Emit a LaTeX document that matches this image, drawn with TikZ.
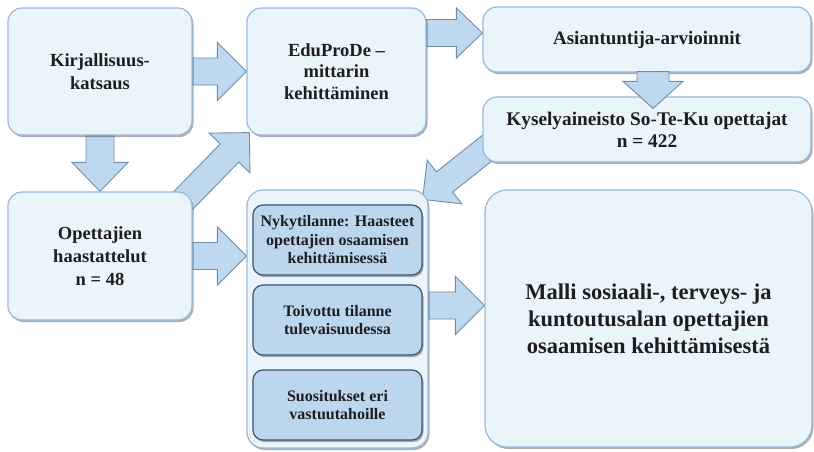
\documentclass[tikz,border=0pt]{standalone}
\usepackage{fontspec}
\setmainfont{LiberationSerif}[Extension=.ttf, UprightFont=*-Regular, BoldFont=*-Bold]
\usetikzlibrary{calc,shadows}
\pgfdeclarelayer{background}
\pgfsetlayers{background,main}
\definecolor{boxfill}{HTML}{EAF4FB}
\definecolor{boxline}{HTML}{97BADB}
\definecolor{subfill}{HTML}{BCD6EE}
\definecolor{subline}{HTML}{3F5670}
\definecolor{arrowfill}{HTML}{BED8EF}
\definecolor{arrowline}{HTML}{6F8DA9}
\definecolor{textcol}{HTML}{1E1E1E}

\tikzset{
  shaft width/.store in=\shaftw, head width/.store in=\headw, head length/.store in=\headl,
  shaft width=13.5pt, head width=29pt, head length=29pt,
  every box/.style={rounded corners=14pt, fill=boxfill, draw=boxline, line width=1.2pt,
    align=center, text=textcol, font=\rmfamily\bfseries, inner sep=2pt,
    drop shadow={shadow xshift=1.5pt, shadow yshift=-2pt, opacity=0.45, fill=black!70}},
  subbox/.style={every box, rounded corners=10pt, fill=subfill, draw=subline,
    minimum width=169pt, minimum height=70pt, inner sep=0pt,
    font=\rmfamily\bfseries\fontsize{16}{18.5}\selectfont},
  blockarrow/.style={fill=arrowfill, draw=arrowline, line width=0.9pt, line join=miter,
    to path={
      ($(\tikztostart)!\shaftw!90:(\tikztotarget)$)
      -- ($($(\tikztotarget)!\headl!(\tikztostart)$)!\shaftw!-90:(\tikztostart)$)
      -- ($($(\tikztotarget)!\headl!(\tikztostart)$)!\headw!-90:(\tikztostart)$)
      -- (\tikztotarget)
      -- ($($(\tikztotarget)!\headl!(\tikztostart)$)!\headw!90:(\tikztostart)$)
      -- ($($(\tikztotarget)!\headl!(\tikztostart)$)!\shaftw!90:(\tikztostart)$)
      -- ($(\tikztostart)!\shaftw!-90:(\tikztotarget)$)
      -- cycle}}
}

\begin{document}
\begin{tikzpicture}[x=1pt, y=-1pt]
\useasboundingbox (0,0) rectangle (814,451);

\node [every box, minimum width=184pt, minimum height=127pt,
  font=\rmfamily\bfseries\fontsize{18.5}{23}\selectfont] (kirj) at (100,71.5)
  {Kirjallisuus-\\katsaus};
\node [every box, minimum width=179pt, minimum height=127pt,
  font=\rmfamily\bfseries\fontsize{18.5}{21.5}\selectfont] (edu) at (336.5,71.5)
  {EduProDe –\\mittarin\\kehittäminen};
\node [every box, minimum width=328pt, minimum height=65pt,
  font=\rmfamily\bfseries\fontsize{19}{22}\selectfont] (asi) at (647,39.5)
  {Asiantuntija-arvioinnit};
\node [every box, minimum width=328pt, minimum height=65pt,
  font=\rmfamily\bfseries\fontsize{19.3}{22}\selectfont] (kys) at (647,129.5)
  {Kyselyaineisto So-Te-Ku opettajat\\n = 422};
\node [every box, minimum width=184pt, minimum height=128pt,
  font=\rmfamily\bfseries\fontsize{18.5}{23}\selectfont] (opet) at (100,256)
  {Opettajien\\haastattelut\\n = 48};
\node [every box, rounded corners=16pt, minimum width=181pt, minimum height=258pt]
  (cont) at (337.5,319) {};
\node [every box, rounded corners=22pt, minimum width=327pt, minimum height=257pt,
  font=\rmfamily\bfseries\fontsize{22.5}{27}\selectfont] (malli) at (648.5,318.5)
  {Malli sosiaali-, terveys- ja\\kuntoutusalan opettajien\\osaamisen kehittämisestä};

\foreach \y/\t [count=\i] in {240/{Nykytilanne: Haasteet\\opettajien osaamisen\\kehittämisessä},
    320/{Toivottu tilanne\\tulevaisuudessa}, 405/{Suositukset eri\\vastuutahoille}}
  \node [subbox] (sub-\i) at (337.5,\y) {\t};

\coordinate (diag1-s) at ($(opet.north east)+(-22,22)$);
\coordinate (diag1-t) at ($(edu.south west)+(3,-3)$);
\coordinate (diag2-s) at (500.5,137.5);
\coordinate (diag2-t) at ($(cont.north east)+(-6,10)$);
\coordinate (top-t) at ($(asi.west)+(0,-6.5)$);
\coordinate (top-s) at (edu.east |- top-t);
\coordinate (low-t) at (cont.west |- opet.east);
\coordinate (mid-t) at ($(malli.west)+(0,-13)$);
\coordinate (mid-s) at (cont.east |- mid-t);
\coordinate (down-s) at ($(asi.south)+(6,-1)$);
\coordinate (down-t) at ($(kys.north)+(6,12)$);

\begin{pgfonlayer}{background}
\draw [blockarrow] (kirj.east) to (edu.west);
\draw [blockarrow, shaft width=14pt, head width=28pt] (kirj.south) to (opet.north);
\draw [blockarrow, shaft width=13pt, head width=28.5pt, head length=28.5pt] (diag1-s) to (diag1-t);
\draw [blockarrow, head width=25pt, head length=26pt] (top-s) to (top-t);
\draw [blockarrow, shaft width=13pt, head width=28pt, head length=28pt] (diag2-s) to (diag2-t);
\draw [blockarrow] (opet.east) to (low-t);
\draw [blockarrow] (mid-s) to (mid-t);
\end{pgfonlayer}
\draw [blockarrow, shaft width=16pt, head width=30pt, head length=27pt] (down-s) to (down-t);
\end{tikzpicture}
\end{document}
